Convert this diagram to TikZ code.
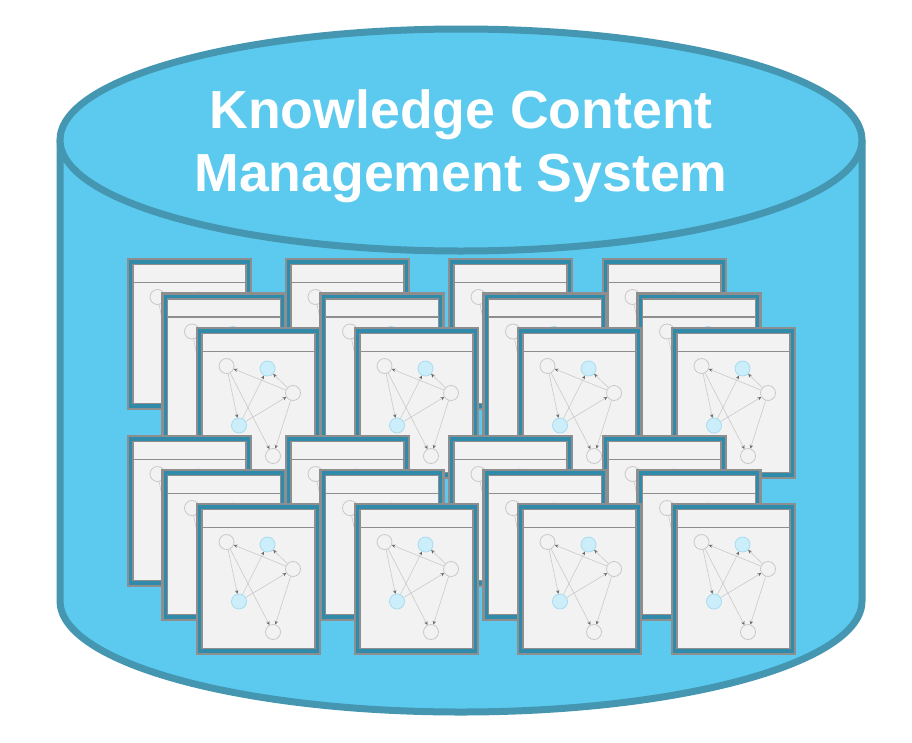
\documentclass[tikz,border=0pt]{standalone}
\usepackage{fontspec}
\setmainfont{Liberation Sans}
\usetikzlibrary{arrows.meta}
\definecolor{cylfill}{HTML}{5BCAEE}
\definecolor{cylline}{HTML}{4596B1}
\definecolor{cardteal}{HTML}{2F8BA9}
\definecolor{cardgray}{HTML}{8E8E8E}
\definecolor{cardbg}{HTML}{F2F2F2}
\definecolor{nodegray}{HTML}{C8C8C8}
\definecolor{nodeblue}{HTML}{CCEEFB}
\definecolor{nodeblueline}{HTML}{A6DCEF}
\definecolor{edgegray}{HTML}{CACACA}
\definecolor{tipgray}{HTML}{6A6A6A}
\tikzset{
  cylbody/.style={fill=cylfill},
  cylrim/.style={draw=cylline, line width=7pt},
  cardouter/.style={fill=cardteal, draw=cardgray, line width=2.4pt},
  cardinner/.style={fill=cardbg, draw=cardgray, line width=1.3pt},
  cardhead/.style={draw=cardgray, line width=1.3pt},
  gnode/.style={circle, minimum size=15pt, inner sep=0pt, draw=nodegray, line width=0.8pt, fill=cardbg},
  bnode/.style={circle, minimum size=15pt, inner sep=0pt, draw=nodeblueline, line width=0.8pt, fill=nodeblue},
  gedge/.style={draw=edgegray, line width=0.6pt, -{Stealth[length=3.6pt,width=3.4pt,color=tipgray]}},
  title/.style={text=white, font=\bfseries\fontsize{53.6}{63}\selectfont, anchor=base, inner sep=0pt}
}
\newcommand\kcard[3]{%
  \begin{scope}[shift={(#1,#2)}]
    \path[cardouter] (0,0) rectangle (123,150);
    \path[cardinner] (5,5.5) rectangle (118,144.5);
    \draw[cardhead] (5,23.5) -- (118,23.5);
    \node[gnode] (#3A) at (29.5,38) {};
    \node[bnode] (#3B) at (70.5,40.5) {};
    \node[gnode] (#3C) at (96,65) {};
    \node[bnode] (#3D) at (42,97.5) {};
    \node[gnode] (#3E) at (76,128) {};
    \draw[gedge] (#3C) -- (#3A);
    \draw[gedge] (#3A) -- (#3D);
    \draw[gedge] (#3A) -- (#3E);
    \draw[gedge] (#3D) -- (#3B);
    \draw[gedge] (#3C) -- (#3B);
    \draw[gedge] (#3D) -- (#3C);
    \draw[gedge] (#3C) -- (#3E);
  \end{scope}}
\begin{document}
\begin{tikzpicture}[x=1pt,y=-1pt]
\useasboundingbox (0,0) rectangle (912,742);
% cylinder body
\path[cylbody] (60,140) -- (60,601) arc[start angle=180,end angle=360,x radius=401pt,y radius=111pt] -- (862,140) -- cycle;
\draw[cylrim] (60,140) -- (60,601) arc[start angle=180,end angle=360,x radius=401pt,y radius=111pt] -- (862,140);
% top ellipse
\draw[cylrim, fill=cylfill] (461,140) ellipse[x radius=401pt, y radius=111pt];
\node[title] (t1) at (461,128) {Knowledge Content};
\node[title] (t2) at (461,191) {Management System};
% top row of cards
\kcard{128}{259}{ta1}\kcard{286}{259}{ta2}\kcard{449}{259}{ta3}\kcard{603}{259}{ta4}
\kcard{162.5}{293.5}{tb1}\kcard{320.5}{293.5}{tb2}\kcard{483.5}{293.5}{tb3}\kcard{637.5}{293.5}{tb4}
\kcard{197}{328}{tc1}\kcard{355}{328}{tc2}\kcard{518}{328}{tc3}\kcard{672}{328}{tc4}
% bottom row of cards
\kcard{128}{436}{ba1}\kcard{286}{436}{ba2}\kcard{449}{436}{ba3}\kcard{603}{436}{ba4}
\kcard{162.5}{470}{bb1}\kcard{320.5}{470}{bb2}\kcard{483.5}{470}{bb3}\kcard{637.5}{470}{bb4}
\kcard{197}{504}{bc1}\kcard{355}{504}{bc2}\kcard{518}{504}{bc3}\kcard{672}{504}{bc4}
\end{tikzpicture}
\end{document}
